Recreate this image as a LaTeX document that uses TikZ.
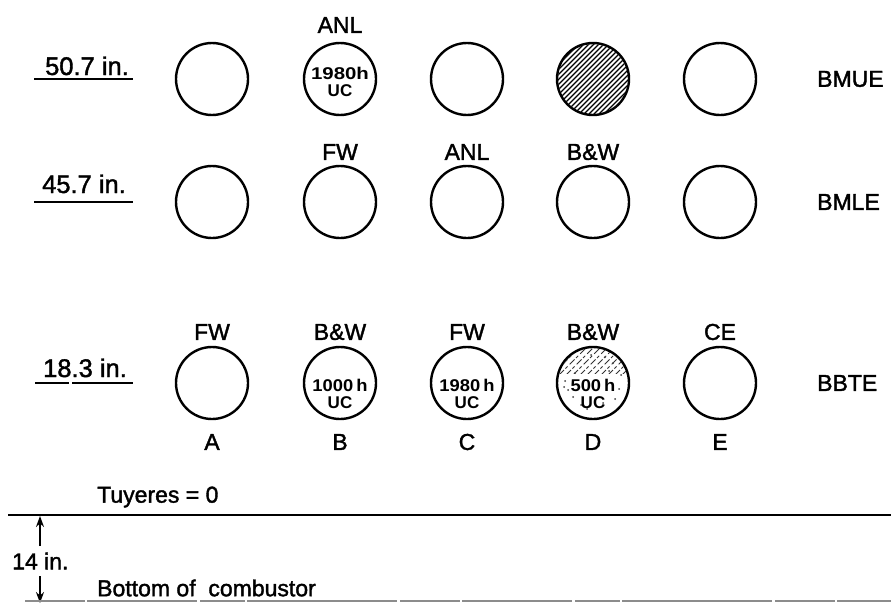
\documentclass[tikz,border=0pt]{standalone}
\usepackage{fontspec}
\setmainfont{Liberation Sans}
\newfontfamily\heavysans{Liberation Sans}[FakeBold=1.6]
\usetikzlibrary{arrows.meta}
\begin{document}
\begin{tikzpicture}[x=1pt,y=-1pt,
  hole/.style={circle, draw, line width=2.4pt, minimum size=72pt, inner sep=0pt},
  lbl/.style={font=\heavysans\fontsize{23}{23}\selectfont, inner sep=0pt},
  lvl/.style={font=\heavysans\fontsize{25.5}{25.5}\selectfont, inner sep=0pt, anchor=base},
  hrs/.style={font=\bfseries\fontsize{17}{17}\selectfont, inner sep=0pt, align=center},
  rule/.style={line width=2.3pt},
  dimarrow/.style={line width=1.6pt, -{Stealth[length=11pt,width=8pt]}},
  hatch/.style={line width=1.2pt}
]
\useasboundingbox (0,0) rectangle (891,605);

% three rows of five test ports, columns A to E
\foreach \c/\x in {1/212,2/340,3/467,4/593,5/720}{
  \node[hole] (u\c) at (\x,79) {};
  \node[hole] (m\c) at (\x,202) {};
  \node[hole] (b\c) at (\x,383) {};
}

% fully hatched port (upper row, D)
\begin{scope}
  \clip (u4.center) circle [radius=35pt];
  \foreach \k in {-84,-79,...,84}
    \draw[hatch] ([xshift=\k pt-45pt, yshift=-45pt]u4.center) -- ([xshift=\k pt+45pt, yshift=45pt]u4.center);
\end{scope}

% partly hatched port (bottom row, D)
\begin{scope}
  \clip (b4.center) circle [radius=35pt];
  \clip ([xshift=-40pt, yshift=40pt]b4.center) rectangle ([xshift=40pt, yshift=10pt]b4.center);
  \foreach \k in {-84,-77,...,84}
    \draw[line width=0.9pt, black!80, dash pattern=on 7pt off 2pt on 3pt off 3pt] ([xshift=\k pt-45pt, yshift=-45pt]b4.center) -- ([xshift=\k pt+45pt, yshift=45pt]b4.center);
\end{scope}
\foreach \dx/\dy in {-28/-2,-25/7,-29/4,-20/14,-12/22,10/20,22/16,26/6,-6/26,16/-12,-18/-10,20/-20,12/-26,28/-8,-2/-28}
  \fill[black!75] ([xshift=\dx pt, yshift=-\dy pt]b4.center) circle [radius=1pt];

% hours and condition inside ports
\node[hrs] at ([yshift=-3pt]u2.center) {\scalebox{1.2}[1]{1980h}\\UC};
\node[hrs] at ([yshift=-11pt]b2.center) {\scalebox{1.08}[1]{1000\,h}\\UC};
\node[hrs] at ([yshift=-11pt]b3.center) {\scalebox{1.08}[1]{1980\,h}\\UC};
\node[hrs] at ([yshift=-11pt]b4.center) {\scalebox{1.08}[1]{500\,h}\\UC};

% organisation labels above ports
\node[lbl] (tu2) at (340,25) {ANL};
\node[lbl] (tm2) at (340,152) {FW};
\node[lbl] (tm3) at (467,152) {ANL};
\node[lbl] (tm4) at (593,152) {B\&W};
\node[lbl] (tb1) at (212,332) {FW};
\node[lbl] (tb2) at (340,332) {B\&W};
\node[lbl] (tb3) at (467,332) {FW};
\node[lbl] (tb4) at (593,332) {B\&W};
\node[lbl] (tb5) at (720,332) {CE};

% column letters
\foreach \c/\x/\t in {1/212/A,2/340/B,3/467/C,4/593/D,5/720/E}
  \node[lbl] (col\c) at (\x,442) {\t};

% row names
\node[lbl, anchor=west] (rn1) at (817,79) {BMUE};
\node[lbl, anchor=west] (rn2) at (817,202) {BMLE};
\node[lbl, anchor=west] (rn3) at (817,383) {BBTE};

% elevations
\node[lvl] (el1) at (87,75) {50.7 in.};
\node[lvl] (el2) at (84,193) {45.7 in.};
\node[lvl] (el3) at (85,377) {18.3 in.};
\draw[rule] (34,79) -- (133,79);
\draw[rule] (34,202) -- (133,202);
\draw[rule] (35,383) -- (69,383);
\draw[rule] (72,383) -- (133,383);

% tuyere level and combustor bottom
\node[lbl, anchor=west] (tuy) at (97,497) {Tuyeres = 0};
\coordinate (tyL) at (8,515);
\coordinate (tyR) at (891,515);
\draw[line width=2pt] (tyL) -- (tyR);

\coordinate (dimTop) at (40,516);
\coordinate (dimTopFoot) at (40,546);
\coordinate (dimBot) at (40,603);
\coordinate (dimBotFoot) at (40,576);
\draw[dimarrow] (dimTopFoot) -- (dimTop);
\draw[dimarrow] (dimBotFoot) -- (dimBot);
\node[lbl, anchor=west] (dim) at (12,561) {14 in.};

\node[lbl, anchor=west] (bot) at (97,588) {Bottom of\ \ combustor};
\coordinate (bL) at (25,601);
\coordinate (bR) at (891,601);
\draw[line width=1.6pt, black!45, dash pattern=on 60pt off 2pt on 110pt off 3pt on 45pt off 2pt on 150pt off 3pt] (bL) -- (bR);
\end{tikzpicture}
\end{document}
